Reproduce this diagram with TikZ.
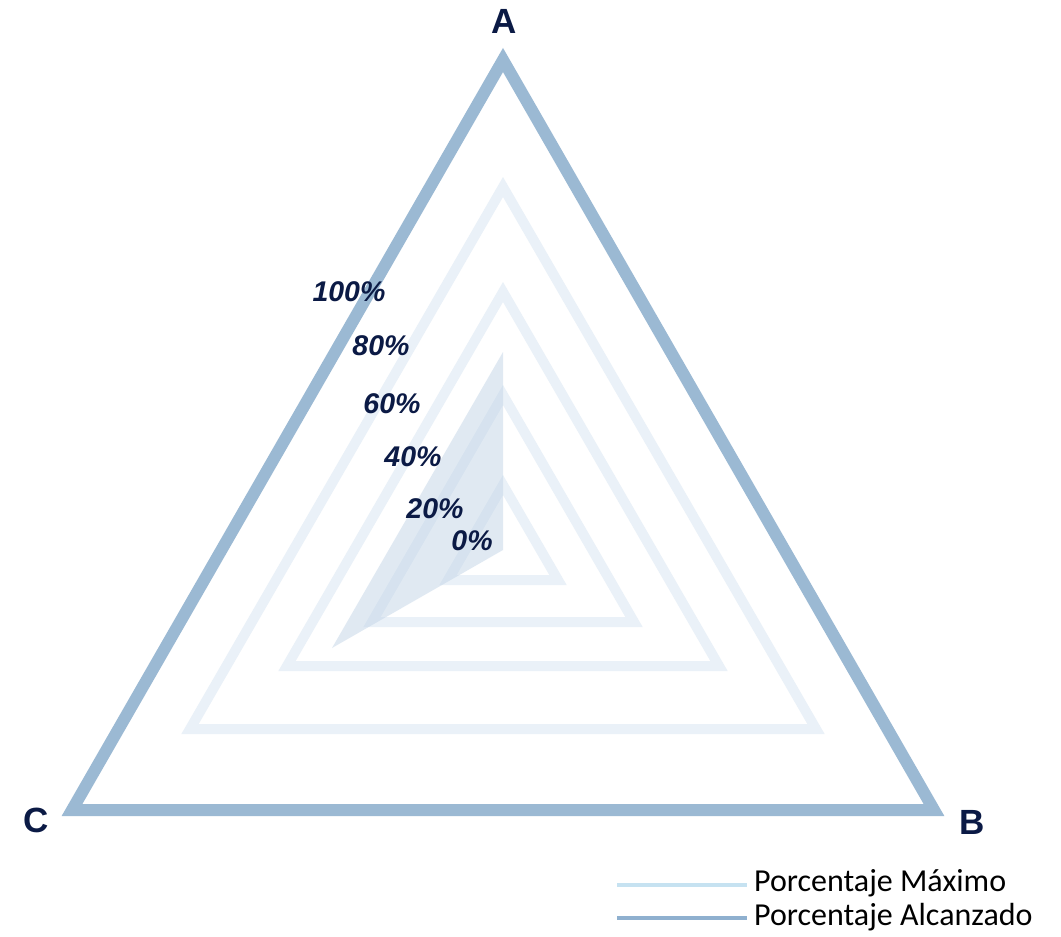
\documentclass[tikz,border=0pt]{standalone}
\usepackage{fontspec}
\setmainfont{Liberation Sans}
\newfontfamily\legendfont{Carlito}
\definecolor{outerblue}{HTML}{9BB9D3}
\definecolor{gridblue}{HTML}{EAF1F8}
\definecolor{fillblue}{HTML}{C3D5E7}
\definecolor{navy}{HTML}{0B1A45}
\definecolor{legmax}{HTML}{C6E2F1}
\definecolor{legalc}{HTML}{8FB0CF}
\begin{document}
\begin{tikzpicture}[x=1pt,y=-1pt,
  outerline/.style={draw=outerblue,line width=12pt,line join=miter},
  gridline/.style={draw=gridblue,line width=10pt,line join=miter},
  areafill/.style={fill=fillblue,fill opacity=0.5},
  pctlabel/.style={inner sep=0pt,text=navy,font=\fontsize{28.5}{32}\selectfont\bfseries\itshape},
  axislabel/.style={inner sep=0pt,text=navy,font=\fontsize{35}{40}\selectfont\bfseries},
  legtext/.style={inner sep=0pt,anchor=west,text=black,font=\legendfont\fontsize{32}{36}\selectfont}]
\path[use as bounding box,fill=white] (0,0) rectangle (1061,937);
% grid triangles
\coordinate (g2a) at (503,485); \coordinate (g2b) at (558,580); \coordinate (g2c) at (448,580);
\coordinate (g4a) at (503,395); \coordinate (g4b) at (634,622); \coordinate (g4c) at (372,622);
\coordinate (g6a) at (503,292); \coordinate (g6b) at (719,666); \coordinate (g6c) at (287,666);
\coordinate (g8a) at (503,187); \coordinate (g8b) at (816,729); \coordinate (g8c) at (190,729);
\draw[gridline] (g2a) -- (g2b) -- (g2c) -- cycle;
\draw[gridline] (g4a) -- (g4b) -- (g4c) -- cycle;
\draw[gridline] (g6a) -- (g6b) -- (g6c) -- cycle;
\draw[gridline] (g8a) -- (g8b) -- (g8c) -- cycle;
% outer triangle
\coordinate (oa) at (503,60); \coordinate (ob) at (934,810); \coordinate (oc) at (72,810);
\draw[outerline] (oa) -- (ob) -- (oc) -- cycle;
% data area
\coordinate (da) at (503,352); \coordinate (dc) at (332,648); \coordinate (dz) at (503,550);
\fill[areafill] (da) -- (dz) -- (dc) -- cycle;
% percentage labels
\node[pctlabel] (p100) at (349,292) {100\%};
\node[pctlabel] (p80) at (381,346) {80\%};
\node[pctlabel] (p60) at (392,404) {60\%};
\node[pctlabel] (p40) at (413,457) {40\%};
\node[pctlabel] (p20) at (435,509) {20\%};
\node[pctlabel] (p0) at (472,541) {0\%};
% axis labels
\node[axislabel] (la) at (504,21) {A};
\node[axislabel] (lb) at (972,822) {B};
\node[axislabel] (lc) at (36,820) {C};
% legend
\coordinate (m1) at (617,885); \coordinate (m2) at (747,885);
\coordinate (a1) at (617,918); \coordinate (a2) at (747,918);
\draw[legmax,line width=4pt] (m1) -- (m2);
\draw[legalc,line width=4pt] (a1) -- (a2);
\node[legtext] (tmax) at (754,883) {Porcentaje Máximo};
\node[legtext] (talc) at (754,917) {Porcentaje Alcanzado};
\end{tikzpicture}
\end{document}
